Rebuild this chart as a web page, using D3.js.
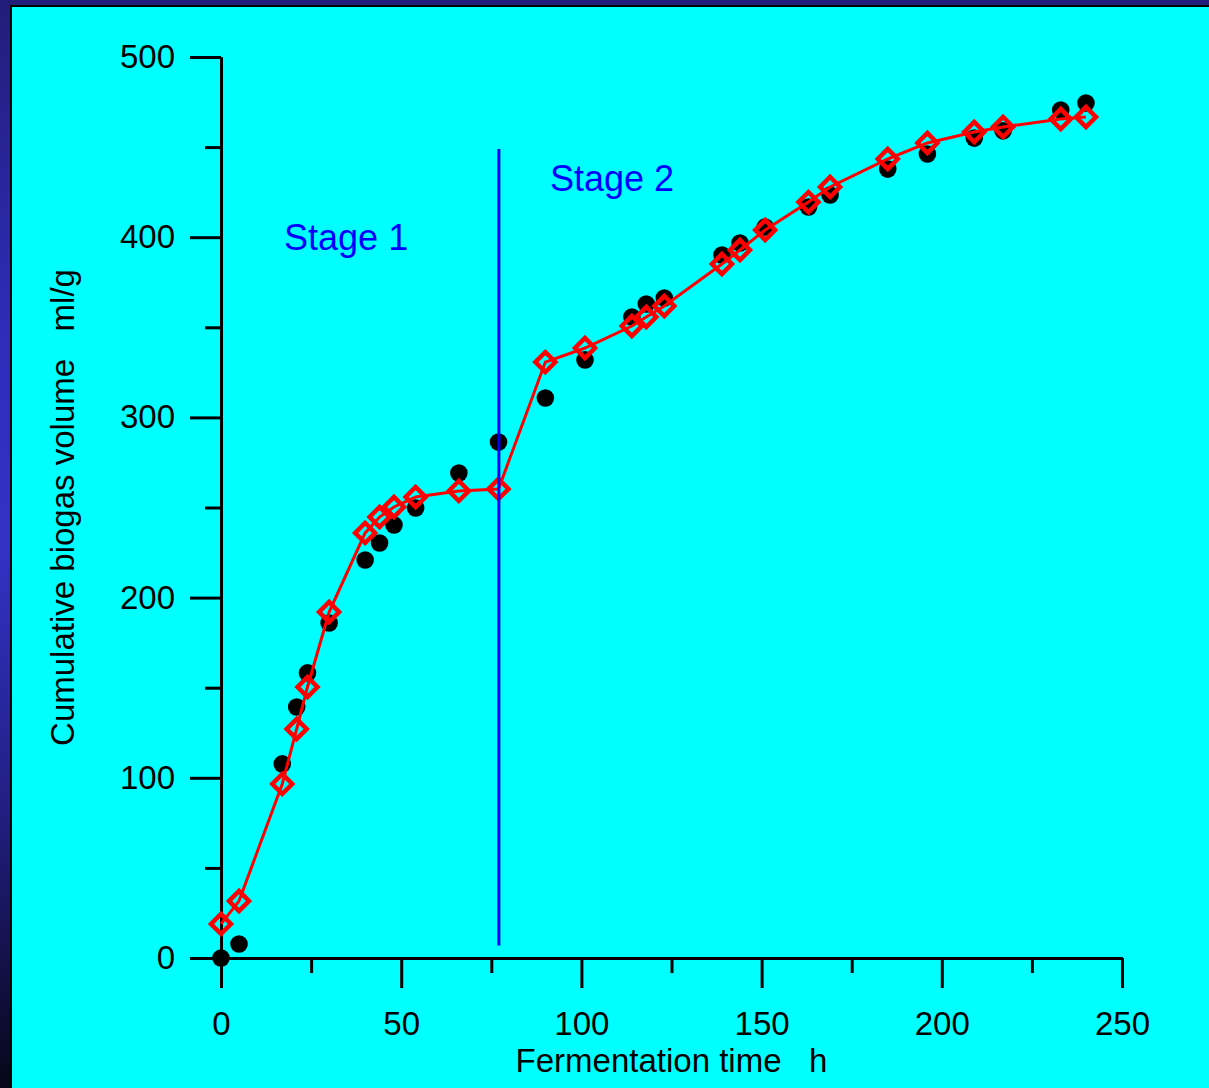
<!DOCTYPE html>
<html>
<head>
<meta charset="utf-8">
<script src="https://cdn.jsdelivr.net/npm/d3@7"></script>
<style>
  body { margin: 0; background: #000; }
  svg { display: block; }
  text { font-family: "Liberation Sans", Arial, sans-serif; }
</style>
</head>
<body>
<div id="chart"></div>
<script>
// data
var hours     = [0, 5, 17, 21, 24, 30, 40, 44, 48, 54, 66, 77, 90, 101, 114, 118, 123, 139, 144, 151, 163, 169, 185, 196, 209, 217, 233, 240];
var measured  = [0, 7.8, 107.7, 139.3, 158.2, 185.9, 220.9, 230.3, 240.3, 249.7, 269.1, 286.3, 310.8, 331.9, 355.7, 362.9, 366.3, 390.1, 396.8, 405.7, 416.8, 423.4, 437.8, 446.2, 455.0, 459.0, 470.6, 474.5];
var predicted = [18.9, 31.6, 96.6, 127.1, 150.4, 192.0, 235.9, 244.7, 250.3, 255.8, 259.2, 260.3, 330.7, 338.5, 350.7, 355.7, 361.8, 385.1, 392.9, 404.0, 419.5, 427.9, 443.4, 452.3, 458.4, 461.2, 465.6, 466.7];

var xTicks = [0, 50, 100, 150, 200, 250];
var xMinor = [25, 75, 125, 175, 225];
var yTicks = [0, 100, 200, 300, 400, 500];
var yMinor = [50, 150, 250, 350, 450];

var stageSplit = 77.1;           // h, vertical divider
var stageSpan  = [7, 449];       // ml/g, extent of divider
var stages     = [{name: "Stage 1", t: 17.5, v: 393}, {name: "Stage 2", t: 91.3, v: 425.6}];

var W = 1209, H = 1088;

var svg = d3.select("#chart").append("svg")
  .attr("width", W).attr("height", H);

// slide frame
var defs = svg.append("defs");
var grad = defs.append("linearGradient").attr("id", "frame")
  .attr("x1", 0).attr("y1", 0).attr("x2", 0).attr("y2", 1);
[[0, "#221d78"], [0.3, "#2e2cb8"], [0.5, "#3232c6"], [0.75, "#211e80"], [1, "#080618"]].forEach(function(s){
  grad.append("stop").attr("offset", s[0]).attr("stop-color", s[1]);
});
svg.append("rect").attr("width", W).attr("height", H).attr("fill", "url(#frame)");
svg.append("rect")
  .attr("x", 11).attr("y", 6).attr("width", W).attr("height", H)
  .attr("fill", "#00ffff").attr("stroke", "#000").attr("stroke-width", 2);

var x = d3.scaleLinear().domain([0, 250]).range([221, 1122]);
var y = d3.scaleLinear().domain([0, 500]).range([958, 57]);

// axes
function styleAxis(g){
  g.selectAll("path, line").attr("stroke", "#000").attr("stroke-width", 3);
  g.selectAll("text").attr("font-size", 33).attr("fill", "#000");
}

svg.append("g")
  .attr("transform", "translate(0," + y(0) + ")")
  .call(d3.axisBottom(x).tickValues(xMinor).tickSize(15).tickSizeOuter(0).tickFormat(""))
  .call(styleAxis);
svg.append("g")
  .attr("transform", "translate(0," + y(0) + ")")
  .call(d3.axisBottom(x).tickValues(xTicks).tickSize(30).tickSizeOuter(0).tickPadding(23.6))
  .call(styleAxis);

svg.append("g")
  .attr("transform", "translate(" + x(0) + ",0)")
  .call(d3.axisLeft(y).tickValues(yMinor).tickSize(16).tickSizeOuter(0).tickFormat(""))
  .call(styleAxis);
svg.append("g")
  .attr("transform", "translate(" + x(0) + ",0)")
  .call(d3.axisLeft(y).tickValues(yTicks).tickSize(31).tickSizeOuter(0).tickPadding(15))
  .call(styleAxis);

// axis titles
svg.append("text")
  .attr("x", (x(0) + x(250)) / 2).attr("y", 1072)
  .attr("text-anchor", "middle").attr("font-size", 33)
  .attr("xml:space", "preserve")
  .text("Fermentation time   h");

svg.append("text")
  .attr("transform", "translate(74," + (y(0) + y(500)) / 2 + ") rotate(-90)")
  .attr("text-anchor", "middle").attr("font-size", 33)
  .attr("xml:space", "preserve")
  .text("Cumulative biogas volume   ml/g");

// measured points
svg.selectAll(".dot")
  .data(hours)
  .enter()
  .append("circle")
  .attr("cx", function(d){ return x(d); })
  .attr("cy", function(d, i){ return y(measured[i]); })
  .attr("r", 8.8)
  .attr("fill", "#000");

// model line + diamonds
var line = d3.line()
  .x(function(d){ return x(d); })
  .y(function(d, i){ return y(predicted[i]); });

svg.append("path")
  .datum(hours)
  .attr("d", line)
  .attr("fill", "none")
  .attr("stroke", "#ff0000")
  .attr("stroke-width", 3);

var diamond = d3.symbol().type(d3.symbolSquare).size(200);
svg.selectAll(".diamond")
  .data(hours)
  .enter()
  .append("path")
  .attr("d", diamond)
  .attr("transform", function(d, i){ return "translate(" + x(d) + "," + y(predicted[i]) + ") rotate(45)"; })
  .attr("fill", "none")
  .attr("stroke", "#ff0000")
  .attr("stroke-width", 4.5);

// stage divider
svg.append("line")
  .attr("x1", x(stageSplit)).attr("x2", x(stageSplit))
  .attr("y1", y(stageSpan[0])).attr("y2", y(stageSpan[1]))
  .attr("stroke", "#0000ff").attr("stroke-width", 3);

svg.selectAll(".stage")
  .data(stages)
  .enter()
  .append("text")
  .attr("x", function(d){ return x(d.t); })
  .attr("y", function(d){ return y(d.v); })
  .attr("font-size", 36)
  .attr("fill", "#0000ff")
  .text(function(d){ return d.name; });
</script>
</body>
</html>
